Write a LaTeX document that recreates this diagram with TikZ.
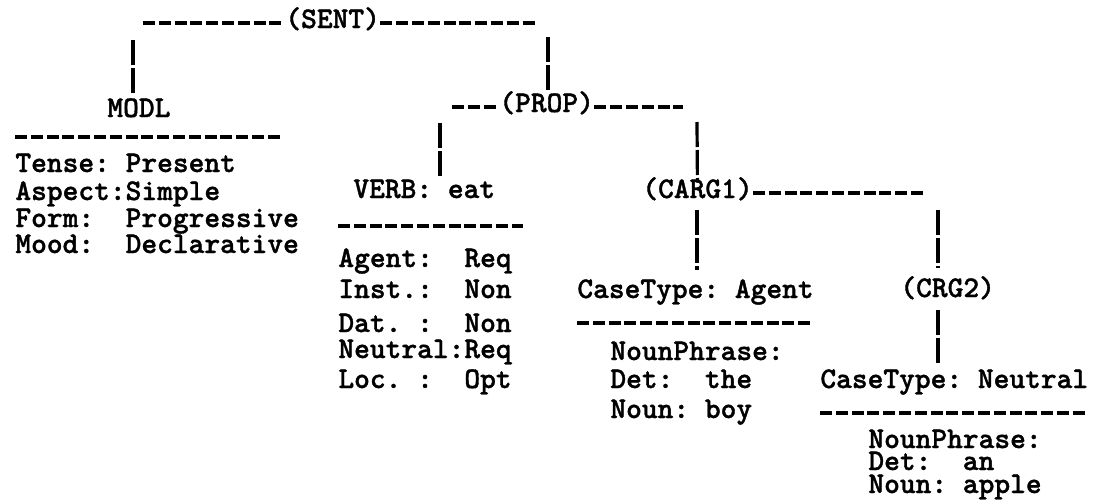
\documentclass[tikz,border=0pt]{standalone}
\usepackage{fontspec}
\usepackage{tikz}
\newfontfamily\typew{lmmonolt10-bold.otf}[FakeBold=1.2]

\begin{document}
\begin{tikzpicture}[x=0.5pt,y=-0.5pt,
  txt/.style={right,inner sep=0pt,text height=7.5pt,text depth=2.5pt,
    font=\fontsize{15}{15}\selectfont\typew},
  hyph/.style={line width=1.6pt,dash pattern=on 6pt off 1.9pt},
  bar/.style={line width=1.6pt,dash pattern=on 12.5pt off 1.5pt}]
\useasboundingbox (0,0) rectangle (1100,504);
\node [txt] (sent) at (285,23) {(SENT)};
\node [txt] (modl) at (107,112) {MODL};
\node [txt] (prop) at (499,107) {(PROP)};
\node [txt] (verb) at (353,193) {VERB:~eat};
\node [txt] (carg1) at (642,193) {(CARG1)};
\node [txt] (agent) at (577,293) {CaseType:~Agent};
\node [txt] (crg2) at (900,292) {(CRG2)};
\node [txt] (neutral) at (820,383) {CaseType:~Neutral};
\node [txt] (m1) at (15,167) {Tense:~Present};
\node [txt] (m2) at (15,195) {Aspect:Simple};
\node [txt] (m3) at (15,222) {Form:~~Progressive};
\node [txt] (m4) at (15,248) {Mood:~~Declarative};
\node [txt] (v1) at (338,262) {Agent:~~Req};
\node [txt] (v2) at (338,293) {Inst.:~~Non};
\node [txt] (v3) at (338,327) {Dat.~:~~Non};
\node [txt] (v4) at (338,353) {Neutral:Req};
\node [txt] (v5) at (338,383) {Loc.~:~~Opt};
\node [txt] (a1) at (610,355) {NounPhrase:};
\node [txt] (a2) at (610,383) {Det:~~the};
\node [txt] (a3) at (610,413) {Noun:~boy};
\node [txt] (n1) at (868,443) {NounPhrase:};
\node [txt] (n2) at (868,465) {Det:~~an};
\node [txt] (n3) at (868,488) {Noun:~apple};
\coordinate (sl) at (143,23);
\coordinate (sr) at (538,23);
\coordinate (pl) at (452,107);
\coordinate (pr) at (683,107);
\coordinate (cr) at (923,193);
\coordinate (s1) at (133,40);
\coordinate (s2) at (133,93);
\coordinate (s3) at (548,37);
\coordinate (s4) at (548,90);
\coordinate (p1) at (440,123);
\coordinate (p2) at (440,177);
\coordinate (p3) at (697,122);
\coordinate (c1) at (697,210);
\coordinate (c2) at (697,270);
\coordinate (c3) at (938,210);
\coordinate (c4) at (938,268);
\coordinate (c5) at (938,310);
\coordinate (c6) at (938,363);
\coordinate (u1) at (15,137);
\coordinate (u2) at (283,137);
\coordinate (u3) at (338,226);
\coordinate (u4) at (523,226);
\coordinate (u5) at (577,323);
\coordinate (u6) at (811,323);
\coordinate (u7) at (820,413);
\coordinate (u8) at (1088,413);
\draw [hyph] (sl) -- (sent);
\draw [hyph] (sent) -- (sr);
\draw [hyph] (pl) -- (prop);
\draw [hyph] (prop) -- (pr);
\draw [hyph] (carg1) -- (cr);
\draw [hyph] (u1) -- (u2);
\draw [hyph] (u3) -- (u4);
\draw [hyph] (u5) -- (u6);
\draw [hyph] (u7) -- (u8);
\draw [bar] (s1) -- (s2);
\draw [bar] (s3) -- (s4);
\draw [bar] (p1) -- (p2);
\draw [bar] (p3) -- (carg1);
\draw [bar] (c1) -- (c2);
\draw [bar] (c3) -- (c4);
\draw [bar] (c5) -- (c6);

\end{tikzpicture}
\end{document}
